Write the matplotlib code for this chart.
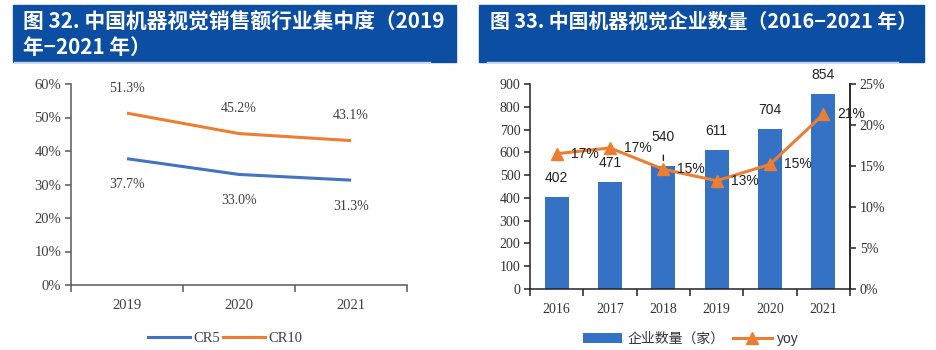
import matplotlib
matplotlib.use("Agg")
import matplotlib.pyplot as plt
from matplotlib.patches import Rectangle, Patch
from matplotlib.lines import Line2D

# ---- data ----
years_left = ["2019", "2020", "2021"]
cr5 = [37.7, 33.0, 31.3]
cr10 = [51.3, 45.2, 43.1]

years_right = ["2016", "2017", "2018", "2019", "2020", "2021"]
companies = [402, 471, 540, 611, 704, 854]
yoy = [16.5, 17.2, 14.6, 13.2, 15.2, 21.3]
yoy_labels = ["17%", "17%", "15%", "13%", "15%", "21%"]

title_left_1 = "图 32. 中国机器视觉销售额行业集中度（2019"
title_left_2 = "年−2021 年）"
title_right = "图 33. 中国机器视觉企业数量（2016−2021 年）"

W, H = 936, 350
CJK = ["Noto Sans CJK SC", "DejaVu Sans"]
SERIF = ["Liberation Serif", "DejaVu Serif"]
SANS = ["Liberation Sans", "DejaVu Sans"]

BANNER = "#0B4EA2"
BLUE = "#4472C4"
BAR = "#3571C5"
ORANGE = "#ED7D31"
TXT = "#404040"

fig = plt.figure(figsize=(W / 100, H / 100), dpi=100)


def rect(x0, y0, x1, y1):
    return [x0 / W, 1 - y1 / H, (x1 - x0) / W, (y1 - y0) / H]


# banners
for (x0, x1, lx0, lx1) in [(13, 456, 14, 430), (479, 924, 487, 898)]:
    fig.patches.append(Rectangle((x0 / W, 1 - 62 / H), (x1 - x0) / W, 57 / H,
                                 transform=fig.transFigure, color=BANNER, zorder=0))
    fig.add_artist(Line2D([lx0 / W, lx1 / W], [1 - 61.5 / H, 1 - 61.5 / H],
                          transform=fig.transFigure, color="#C9D5E8", lw=1.0))

t1 = fig.text(23 / W, 1 - 21 / H, title_left_1, color="white", fontsize=15, fontweight="bold",
              family=CJK, ha="left", va="center")
t2 = fig.text(23 / W, 1 - 47 / H, title_left_2, color="white", fontsize=15, fontweight="bold",
              family=CJK, ha="left", va="center")
t3 = fig.text(490 / W, 1 - 21 / H, title_right, color="white", fontsize=15, fontweight="bold",
              family=CJK, ha="left", va="center")
fig.canvas.draw()
r = fig.canvas.get_renderer()
w1 = t1.get_window_extent(r).width
w3 = t3.get_window_extent(r).width
fs1 = 15 * 423 / w1
fs3 = 15 * 427 / w3
t1.set_fontsize(fs1)
t2.set_fontsize(fs1)
t3.set_fontsize(fs3)

# ---- left chart ----
ax1 = fig.add_axes(rect(71, 84, 407, 285))
xl = list(range(len(years_left)))
ax1.plot(xl, cr5, color=BLUE, lw=2.2, solid_capstyle="butt")
ax1.plot(xl, cr10, color=ORANGE, lw=2.2, solid_capstyle="butt")
for i in xl:
    ax1.annotate(f"{cr10[i]:.1f}%", xy=(i, cr10[i]), xytext=(0, 25), textcoords="offset pixels",
                 ha="center", va="center", fontsize=10, family=SERIF, color=TXT)
    ax1.annotate(f"{cr5[i]:.1f}%", xy=(i, cr5[i]), xytext=(0, -26), textcoords="offset pixels",
                 ha="center", va="center", fontsize=10, family=SERIF, color=TXT)
ax1.set_xlim(-0.5, len(years_left) - 0.5)
ax1.set_ylim(0, 60)
ax1.set_yticks(range(0, 61, 10))
ax1.set_yticklabels([f"{v}%" for v in range(0, 61, 10)])
ax1.set_xticks(xl)
ax1.set_xticklabels(years_left)
ax1.set_xticks([i - 0.5 for i in range(len(years_left) + 1)], minor=True)
ax1.tick_params(axis="x", which="major", length=0, pad=10)
ax1.tick_params(axis="x", which="minor", length=5, width=1.1, color="#595959")
ax1.tick_params(axis="y", length=4, width=1.1, color="#595959", pad=3)
for lab in ax1.get_xticklabels() + ax1.get_yticklabels():
    lab.set_family(SERIF)
    lab.set_fontsize(10.5)
    lab.set_color(TXT)
for s in ["top", "right"]:
    ax1.spines[s].set_visible(False)
for s in ["left", "bottom"]:
    ax1.spines[s].set_color("#595959")
    ax1.spines[s].set_linewidth(1.1)

h1 = [Line2D([], [], color=BLUE, lw=2.2), Line2D([], [], color=ORANGE, lw=2.2)]
fig.legend(h1, ["CR5", "CR10"], loc="center", bbox_to_anchor=(225 / W, 1 - 338 / H), ncol=2,
           frameon=False, handlelength=2.9, handletextpad=0.2, columnspacing=0.2,
           prop={"family": SERIF, "size": 10.5}, labelcolor=TXT)

# ---- right chart ----
ax = fig.add_axes(rect(530, 84, 850, 289))
xr = list(range(len(years_right)))
ax.bar(xr, companies, width=0.45, color=BAR, zorder=2)
for i in xr:
    off = 29 if years_right[i] == "2018" else 19
    if years_right[i] == "2018":
        ax.annotate(f"{companies[i]}", xy=(i, companies[i]), xytext=(0, off), textcoords="offset pixels",
                    ha="center", va="center", fontsize=10, family=SANS, color="#222222",
                    arrowprops=dict(arrowstyle="-", color="#222222", lw=1.0, shrinkA=6, shrinkB=-4))
    else:
        ax.annotate(f"{companies[i]}", xy=(i, companies[i]), xytext=(0, off), textcoords="offset pixels",
                    ha="center", va="center", fontsize=10, family=SANS, color="#222222")
ax.set_xlim(-0.5, len(years_right) - 0.5)
ax.set_ylim(0, 900)
ax.set_yticks(range(0, 901, 100))
ax.set_xticks(xr)
ax.set_xticklabels(years_right)
ax.set_xticks([i - 0.5 for i in range(len(years_right) + 1)], minor=True)
ax.tick_params(axis="x", which="major", length=0, pad=10)
ax.tick_params(axis="x", which="minor", length=5, width=1.1, color="#222222")
ax.tick_params(axis="y", length=4, width=1.1, color="#222222", pad=3)
for lab in ax.get_xticklabels() + ax.get_yticklabels():
    lab.set_family(SERIF)
    lab.set_fontsize(10)
    lab.set_color("#333333")
ax.spines["top"].set_visible(False)
for s in ["left", "bottom", "right"]:
    ax.spines[s].set_color("#222222")
    ax.spines[s].set_linewidth(1.1)

ax2 = ax.twinx()
ax2.plot(xr, yoy, color=ORANGE, lw=2.2, marker="^", markersize=8, zorder=3)
for i in xr:
    ax2.annotate(yoy_labels[i], xy=(i, yoy[i]), xytext=(28, 0), textcoords="offset pixels",
                 ha="center", va="center", fontsize=10, family=SANS, color="#222222")
ax2.set_ylim(0, 25)
ax2.set_yticks(range(0, 26, 5))
ax2.set_yticklabels([f"{v}%" for v in range(0, 26, 5)])
ax2.tick_params(axis="y", length=4, width=1.1, color="#222222", pad=3)
for lab in ax2.get_yticklabels():
    lab.set_family(SERIF)
    lab.set_fontsize(10)
    lab.set_color("#333333")
for s in ["top", "left", "bottom"]:
    ax2.spines[s].set_visible(False)
ax2.spines["right"].set_color("#222222")
ax2.spines["right"].set_linewidth(1.1)

h2 = [Patch(facecolor=BAR, edgecolor="none"),
      Line2D([], [], color=ORANGE, lw=2.2, marker="^", markersize=8)]
leg = fig.legend(h2, ["企业数量（家）", "yoy"], loc="center", bbox_to_anchor=(691 / W, 1 - 339 / H),
                 ncol=2, frameon=False, handlelength=2.8, handleheight=0.8, handletextpad=0.4,
                 columnspacing=0.6, prop={"family": CJK, "size": 10}, labelcolor="#333333")
leg.get_texts()[1].set_family(SANS)

fig.savefig("out.png", dpi=100)
